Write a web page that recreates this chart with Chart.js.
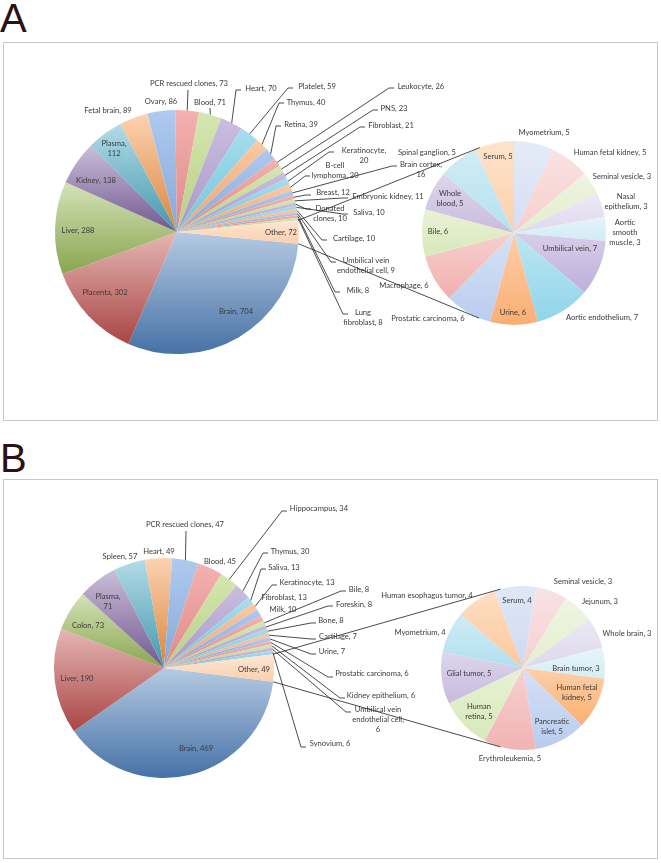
<!DOCTYPE html>
<html>
<head>
<meta charset="utf-8">
<script src="https://cdn.jsdelivr.net/npm/chart.js@4.4.1/dist/chart.umd.min.js"></script>
<style>
  body { margin: 0; background: #fff; width: 661px; height: 863px; position: relative; overflow: hidden; }
  .tag { position: absolute; left: 0; font: 40px 'Liberation Sans', Arial, sans-serif; line-height: 40px; color: #2b1015; }
  .box { position: absolute; left: 3px; width: 653px; border: 1px solid #c8c8c8; background: #fff; }
  canvas { position: absolute; left: 0; }
</style>
</head>
<body>
<div class="tag" style="top:-2px">A</div>
<div class="box" style="top:42px;height:377px"></div>
<div class="tag" style="top:438px">B</div>
<div class="box" style="top:479px;height:378px"></div>
<canvas id="a-main" width="661" height="430" style="top:0"></canvas>
<canvas id="a-sub" width="661" height="430" style="top:0"></canvas>
<canvas id="b-main" width="661" height="433" style="top:430px"></canvas>
<canvas id="b-sub" width="661" height="433" style="top:430px"></canvas>
<script>
// panel A, main pie (clockwise from just below 3 o'clock)
const aMainLabels = ['Brain', 'Placenta', 'Liver', 'Kidney', 'Plasma', 'Fetal brain', 'Ovary', 'PCR rescued clones',
  'Blood', 'Heart', 'Platelet', 'Thymus', 'Retina', 'Leukocyte', 'PNS', 'Fibroblast', 'Keratinocyte', 'B-cell lymphoma',
  'Brain cortex', 'Breast', 'Embryonic kidney', 'Donated clones', 'Saliva', 'Cartilage', 'Umbilical vein endothelial cell',
  'Milk', 'Lung fibroblast', 'Other'];
const aMainValues = [704, 302, 288, 138, 112, 89, 86, 73, 71, 70, 59, 40, 39, 26, 23, 21, 20, 20, 16, 12, 11, 10, 10, 10, 9, 8, 8, 72];

// panel A, breakdown of "Other" (clockwise from 12 o'clock)
const aSubLabels = ['Myometrium', 'Human fetal kidney', 'Seminal vesicle', 'Nasal epithelium', 'Aortic smooth muscle',
  'Umbilical vein', 'Aortic endothelium', 'Urine', 'Prostatic carcinoma', 'Macrophage', 'Bile', 'Whole blood',
  'Spinal ganglion', 'Serum'];
const aSubValues = [5, 5, 3, 3, 3, 7, 7, 6, 6, 6, 6, 5, 5, 5];

// panel B, main pie
const bMainLabels = ['Brain', 'Liver', 'Colon', 'Plasma', 'Spleen', 'Heart', 'PCR rescued clones', 'Blood', 'Hippocampus',
  'Thymus', 'Saliva', 'Keratinocyte', 'Fibroblast', 'Milk', 'Bile', 'Foreskin', 'Bone', 'Cartilage', 'Urine',
  'Prostatic carcinoma', 'Kidney epithelium', 'Umbilical vein endothelial cell', 'Synovium', 'Other'];
const bMainValues = [469, 190, 73, 71, 57, 49, 47, 45, 34, 30, 13, 13, 13, 10, 8, 8, 8, 7, 7, 6, 6, 6, 6, 49];

// panel B, breakdown of "Other"
const bSubLabels = ['Serum', 'Seminal vesicle', 'Jejunum', 'Whole brain', 'Brain tumor', 'Human fetal kidney',
  'Pancreatic islet', 'Erythroleukemia', 'Human retina', 'Glial tumor', 'Myometrium', 'Human esophagus tumor'];
const bSubValues = [4, 3, 3, 3, 3, 5, 5, 5, 5, 5, 4, 4];

// ---- styling ----
const PALETTE = ['#4f81bd', '#c0504d', '#9bbb59', '#8064a2', '#4bacc6', '#f79646'];
const PALETTE2 = ['#8db3e8', '#ee918e', '#c3dc8e', '#b3a2d2', '#7ed0e6', '#fab07a'];
const OTHER_FILL = ['#fde7d5', '#fbcfaa'];
const aSubColors = ['#d3def4', '#f6cfcd', '#e2edcc', '#e0d9ed', '#d0ecf5', '#bfaedb', '#90d5ea', '#fbae72',
  '#bacdee', '#f0b0af', '#d8e9bb', '#c9bbdf', '#b3e1ef', '#fcd0a8'];
const bSubColors = ['#cbd9f2', '#f5d0d0', '#e4eecf', '#ded8ec', '#d5eef6', '#fbb070', '#b9ccee', '#f1b3b3',
  '#d7e9b9', '#c7badf', '#b1dfee', '#fcc89c'];
const FONT = "7.6px Lato, 'Open Sans', sans-serif";
const TEXT = '#3a3a3a';
const LINE = '#1e1e1e';
const LINE_H = 10;

// label placements (page px): text centre, optional words per line, optional leader elbow
const aMainPos = [
  { x: 236, y: 312 }, { x: 105, y: 293 }, { x: 78, y: 231 }, { x: 96, y: 181 }, { x: 114, y: 149, split: [1, 1] },
  { x: 108, y: 111 }, { x: 161, y: 102 },
  { x: 189, y: 84, at: [188, 90], tick: false },
  { x: 210, y: 103, at: [210, 108], tick: false },
  { x: 261, y: 89, at: [236, 90] },
  { x: 317, y: 87, at: [288, 88] },
  { x: 306, y: 103, at: [279, 103] },
  { x: 301, y: 125, at: [276, 126] },
  { x: 421, y: 87, at: [389, 88] },
  { x: 394, y: 109, at: [373, 110] },
  { x: 391, y: 126, at: [360, 127] },
  { x: 364, y: 156, split: [1, 1], at: [329, 152] },
  { x: 335, y: 171, split: [1, 2], at: [305, 176] },
  { x: 421, y: 170, split: [2, 1], at: [392, 166] },
  { x: 333, y: 193, at: [306, 195] },
  { x: 388, y: 197, at: [343, 198] },
  { x: 330, y: 214, split: [1, 2], at: [306, 209] },
  { x: 369, y: 213, at: [343, 214] },
  { x: 354, y: 239, at: [322, 240] },
  { x: 366, y: 266, split: [2, 3], at: [331, 262] },
  { x: 358, y: 291, at: [335, 292] },
  { x: 363, y: 318, split: [1, 2], at: [343, 314] },
  { x: 281, y: 233 },
];
const aSubPos = [
  { x: 544, y: 133 }, { x: 610, y: 153 }, { x: 622, y: 177 }, { x: 626, y: 202, split: [1, 2] },
  { x: 625, y: 233, split: [1, 1, 2] },
  { x: 570, y: 249 }, { x: 602, y: 318 }, { x: 513, y: 313 }, { x: 428, y: 319 }, { x: 404, y: 286 },
  { x: 438, y: 232 }, { x: 450, y: 199, split: [1, 2] }, { x: 427, y: 153 }, { x: 498, y: 157 },
];
const bMainPos = [
  { x: 196, y: 749 }, { x: 77, y: 679 }, { x: 88, y: 626 }, { x: 108, y: 602, split: [1, 1] }, { x: 120, y: 557 },
  { x: 159, y: 552 },
  { x: 185, y: 525, at: [186, 531], tick: false },
  { x: 220, y: 562 },
  { x: 319, y: 509, at: [282, 511] },
  { x: 290, y: 552, at: [263, 553] },
  { x: 284, y: 568, at: [261, 569] },
  { x: 307, y: 583, at: [272, 585] },
  { x: 284, y: 598 },
  { x: 283, y: 610 },
  { x: 359, y: 590, at: [341, 591] },
  { x: 354, y: 605, at: [328, 606] },
  { x: 331, y: 621, at: [311, 623] },
  { x: 338, y: 637, at: [311, 639] },
  { x: 332, y: 652, at: [311, 654] },
  { x: 372, y: 674, at: [328, 677] },
  { x: 381, y: 696, at: [340, 698] },
  { x: 378, y: 720, split: [2, 2, 1], at: [346, 712] },
  { x: 330, y: 744, at: [301, 747] },
  { x: 254, y: 670 },
];
const bSubPos = [
  { x: 517, y: 601 }, { x: 583, y: 582 }, { x: 600, y: 602 }, { x: 627, y: 634 }, { x: 576, y: 669 },
  { x: 577, y: 693, split: [2, 2] }, { x: 552, y: 727, split: [1, 2] }, { x: 510, y: 759 },
  { x: 479, y: 712, split: [1, 2] },
  { x: 469, y: 674 }, { x: 420, y: 633 }, { x: 427, y: 596 },
];

function mix(hex, t) {
  const n = parseInt(hex.slice(1), 16);
  const ch = [n >> 16, (n >> 8) & 255, n & 255].map(v => Math.round(t >= 0 ? v + (255 - v) * t : v * (1 + t)));
  return `rgb(${ch.join(',')})`;
}

function mainShades(count) {
  return Array.from({ length: count }, (_, i) => {
    if (i === count - 1) return OTHER_FILL;
    if (i < 6) return [mix(PALETTE[i], 0.58), mix(PALETTE[i], -0.12)];
    const c = PALETTE2[i % 6];
    return [mix(c, 0.3), mix(c, -0.06)];
  });
}
const subShades = colors => colors.map(c => [mix(c, 0.4), c]);

// Excel-style per slice gradient, light at the top of the slice, dark at the bottom
function sliceFill(c, values, rot, shades) {
  const pair = shades[c.dataIndex];
  const area = c.chart.chartArea;
  if (c.type !== 'data' || !area) return pair[1];
  const cy = (area.top + area.bottom) / 2;
  const r = Math.min(area.right - area.left, area.bottom - area.top) / 2;
  const total = values.reduce((s, v) => s + v, 0);
  let before = 0;
  for (let k = 0; k < c.dataIndex; k++) before += values[k];
  const a0 = rot + before / total * 360;
  const a1 = a0 + values[c.dataIndex] / total * 360;
  const ys = [cy];
  for (let a = a0; ; a = Math.min(a + 2, a1)) {
    ys.push(cy - r * Math.cos(a * Math.PI / 180));
    if (a >= a1) break;
  }
  const g = c.chart.ctx.createLinearGradient(0, Math.min(...ys), 0, Math.max(...ys) + 0.01);
  g.addColorStop(0, pair[0]);
  g.addColorStop(1, pair[1]);
  return g;
}

function splitText(text, split) {
  if (!split) return [text];
  const words = text.split(' ');
  let k = 0;
  return split.map(n => words.slice(k, k += n).join(' '));
}

function labelPlugin(labels, values, places, top) {
  return {
    id: 'sliceLabels',
    afterDatasetsDraw(chart) {
      const ctx = chart.ctx;
      const arcs = chart.getDatasetMeta(0).data;
      ctx.save();
      ctx.font = FONT;
      ctx.fillStyle = TEXT;
      ctx.strokeStyle = LINE;
      ctx.lineWidth = 0.8;
      ctx.textAlign = 'center';
      ctx.textBaseline = 'middle';
      places.forEach((p, i) => {
        if (p.at) {
          const a = arcs[i];
          const mid = (a.startAngle + a.endAngle) / 2;
          const lx = p.at[0], ly = p.at[1] - top;
          ctx.beginPath();
          ctx.moveTo(a.x + a.outerRadius * Math.cos(mid), a.y + a.outerRadius * Math.sin(mid));
          ctx.lineTo(lx, ly);
          if (p.tick !== false) ctx.lineTo(lx + 5, ly);
          ctx.stroke();
        }
        const lines = splitText(`${labels[i]}, ${values[i]}`, p.split);
        lines.forEach((ln, k) => ctx.fillText(ln, p.x, p.y - top + (k - (lines.length - 1) / 2) * LINE_H));
      });
      ctx.restore();
    },
  };
}

// tangent lines from the corners of the "Other" slice to the secondary pie
function connectorPlugin(mainChart) {
  return {
    id: 'connector',
    afterDatasetsDraw(chart) {
      const other = mainChart.getDatasetMeta(0).data.at(-1);
      const sub = chart.getDatasetMeta(0).data[0];
      const r = sub.outerRadius;
      const ctx = chart.ctx;
      ctx.save();
      ctx.strokeStyle = LINE;
      ctx.lineWidth = 0.8;
      [other.startAngle, other.endAngle].forEach((ang, k) => {
        const px = other.x + other.outerRadius * Math.cos(ang);
        const py = other.y + other.outerRadius * Math.sin(ang);
        const d = Math.hypot(px - sub.x, py - sub.y);
        const al = Math.atan2(py - sub.y, px - sub.x);
        const be = Math.acos(r / d);
        const pts = [al + be, al - be].map(t => [sub.x + r * Math.cos(t), sub.y + r * Math.sin(t)]);
        pts.sort((u, v) => u[1] - v[1]);
        const t = k === 0 ? pts[0] : pts[1];
        ctx.beginPath();
        ctx.moveTo(px, py);
        ctx.lineTo(t[0], t[1]);
        ctx.stroke();
      });
      ctx.restore();
    },
  };
}

function drawPie(id, labels, values, shades, rot, cx, cy, r, top, places, extra = []) {
  const canvas = document.getElementById(id);
  const W = canvas.width, H = canvas.height;
  const y0 = cy - top;
  // eslint-disable-next-line no-undef
  return new Chart(canvas, {
    type: 'pie',
    data: {
      labels,
      datasets: [{
        data: values,
        borderWidth: 0,
        hoverBorderWidth: 0,
        hoverOffset: 0,
        offset: 0,
        backgroundColor: c => sliceFill(c, values, rot, shades),
      }],
    },
    options: {
      responsive: false,
      animation: false,
      devicePixelRatio: 1,
      rotation: rot,
      events: [],
      layout: { padding: { left: cx - r, right: W - cx - r, top: y0 - r, bottom: H - y0 - r } },
      plugins: { legend: { display: false }, tooltip: { enabled: false } },
    },
    plugins: [labelPlugin(labels, values, places, top), ...extra],
  });
}

const otherRot = vals => 90 + vals[vals.length - 1] / vals.reduce((s, v) => s + v, 0) * 180;

const aMain = drawPie('a-main', aMainLabels, aMainValues, mainShades(aMainValues.length), otherRot(aMainValues),
  177, 232, 122, 0, aMainPos);
drawPie('a-sub', aSubLabels, aSubValues, subShades(aSubColors), 0, 514, 233, 92, 0, aSubPos, [connectorPlugin(aMain)]);

const bMain = drawPie('b-main', bMainLabels, bMainValues, mainShades(bMainValues.length), otherRot(bMainValues),
  164, 668, 110, 430, bMainPos);
drawPie('b-sub', bSubLabels, bSubValues, subShades(bSubColors), -20, 523, 668, 82, 430, bSubPos, [connectorPlugin(bMain)]);
</script>
</body>
</html>
